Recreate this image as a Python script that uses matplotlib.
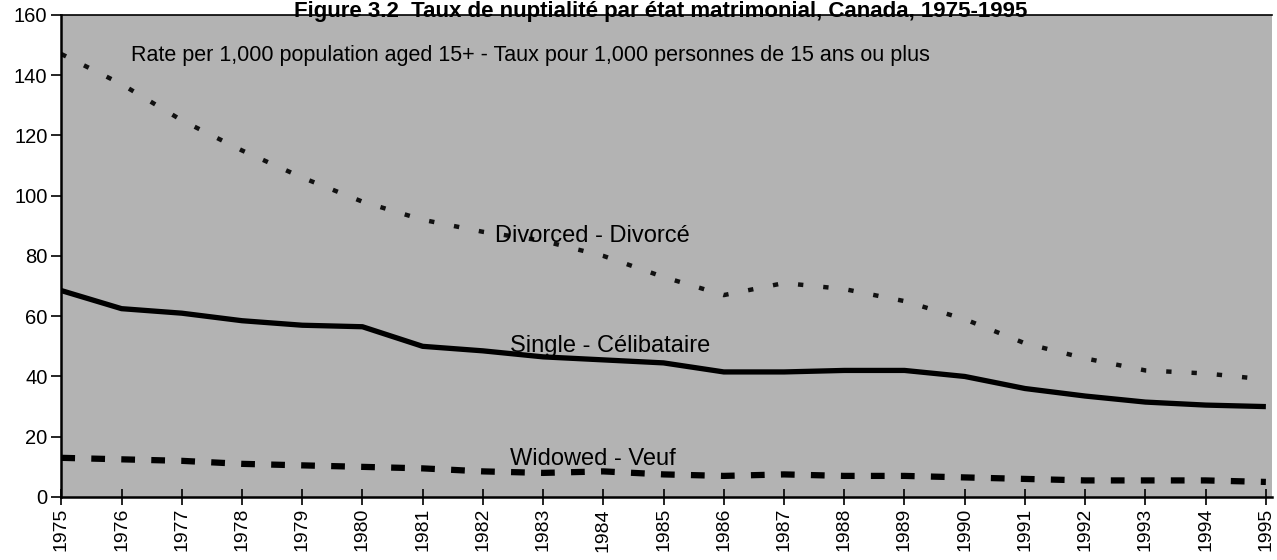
import matplotlib
matplotlib.use("Agg")
import matplotlib.pyplot as plt

plt.rcParams['font.family'] = ['Liberation Sans', 'DejaVu Sans']

#Chart data
years = list(range(1975, 1996))
divorced = [147, 137, 125, 115, 106, 98, 92, 88, 85, 80, 73, 67, 71, 69, 65, 59, 51, 46, 42, 41, 39]
single = [68.5, 62.5, 61, 58.5, 57, 56.5, 50, 48.5, 46.5, 45.5, 44.5, 41.5, 41.5, 42, 42, 40, 36, 33.5, 31.5, 30.5, 30]
widowed = [13, 12.5, 12, 11, 10.5, 10, 9.5, 8.5, 8, 8.5, 7.5, 7, 7.5, 7, 7, 6.5, 6, 5.5, 5.5, 5.5, 5]
yticks = [0, 20, 40, 60, 80, 100, 120, 140, 160]

fig = plt.figure(figsize=(12.77, 5.6), dpi=100)
ax = fig.add_axes([0.048, 0.1125, 0.948, 0.861])
ax.set_facecolor('#b3b3b3')

ax.plot(years, single, color='black', lw=3.8, solid_capstyle='butt')
ax.plot(years, divorced, color='#111111', lw=3.2, linestyle=(0, (1.2, 4.5)))
ax.plot(years, widowed, color='black', lw=4.5, linestyle=(0, (2.2, 2.6)))

ax.set_xlim(1975, 1995.1)
ax.set_ylim(0, 160)
ax.set_yticks(yticks)
ax.set_xticks(years)
ax.set_xticklabels([str(y) for y in years], rotation=90)
ax.tick_params(axis='y', direction='out', length=7, width=1.2, labelsize=14.5, pad=3)
ax.tick_params(axis='x', direction='inout', length=12, width=1.2, labelsize=14, pad=2)

for s in ['left', 'bottom']:
    ax.spines[s].set_linewidth(1.8)
ax.spines['top'].set_linestyle((0, (1, 1)))
ax.spines['top'].set_linewidth(1.2)
ax.spines['right'].set_visible(False)

ax.text(1976.15, 146.5, 'Rate per 1,000 population aged 15+ - Taux pour 1,000 personnes de 15 ans ou plus',
        fontsize=15.5, va='center', ha='left')
ax.text(1982.2, 86.5, 'Divorced - Divorcé', fontsize=17, va='center', ha='left')
ax.text(1982.45, 50, 'Single - Célibataire', fontsize=17, va='center', ha='left')
ax.text(1982.45, 12.5, 'Widowed - Veuf', fontsize=17, va='center', ha='left')

fig.text(0.517, 0.999, 'Figure 3.2  Taux de nuptialité par état matrimonial, Canada, 1975-1995',
         fontsize=16, fontweight='bold', ha='center', va='top')

fig.savefig('out.png', dpi=100)
